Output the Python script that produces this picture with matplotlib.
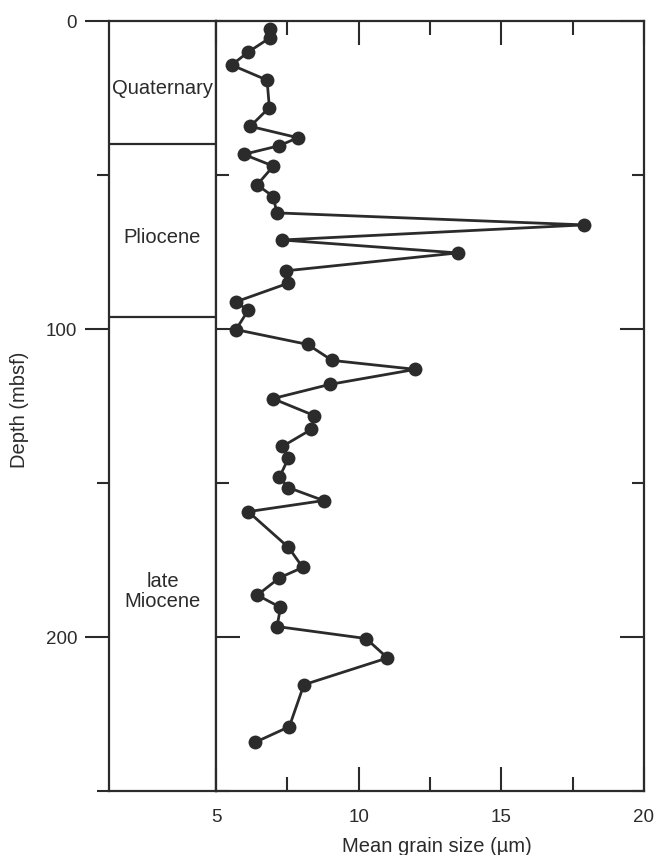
import matplotlib
matplotlib.use('Agg')
import matplotlib.pyplot as plt
from matplotlib.ticker import FixedLocator

plt.rcParams['font.family'] = ['Liberation Sans', 'DejaVu Sans']
plt.rcParams['font.size'] = 13

# depth (mbsf) and mean grain size (um)
depth = [2.7, 5.4, 10.2, 14.3, 19.2, 28.1, 34.2, 37.9, 40.5, 43.3, 47.1, 53.2,
         57.0, 62.3, 66.2, 71.1, 75.3, 81.1, 85.1, 91.2, 93.9, 100.2, 105.0,
         110.2, 113.1, 118.0, 122.6, 128.1, 132.6, 138.1, 141.9, 148.2, 151.5,
         155.7, 159.3, 170.9, 177.4, 180.8, 186.4, 190.4, 196.6, 200.5, 206.8,
         215.5, 229.1, 234.2]
grain = [6.90, 6.90, 6.11, 5.55, 6.79, 6.87, 6.20, 7.87, 7.21, 5.97, 7.01, 6.44,
         7.01, 7.13, 17.90, 7.32, 13.47, 7.46, 7.54, 5.69, 6.13, 5.70, 8.21,
         9.07, 11.99, 8.98, 6.99, 8.44, 8.34, 7.33, 7.54, 7.22, 7.54,
         8.77, 6.13, 7.54, 8.04, 7.22, 6.45, 7.26, 7.14, 10.26, 11.01,
         8.08, 7.57, 6.37]

# stratigraphic units
unit_names = ['Quaternary', 'Pliocene', 'late\nMiocene']
unit_label_depth = [21.8, 70.4, 185.3]
unit_bounds = [40, 96]

ink = '#2b2b2b'
W, H = 660, 855
fig = plt.figure(figsize=(6.6, 8.55), dpi=100)
bottom = 1 - 791 / H
height = (791 - 21) / H
ax_s = fig.add_axes([109 / W, bottom, (216 - 109) / W, height])
ax = fig.add_axes([216 / W, bottom, (644 - 216) / W, height], sharey=ax_s)

for a in (ax_s, ax):
    for sp in a.spines.values():
        sp.set_linewidth(1.6)
        sp.set_color(ink)

# main profile
ax.plot(grain, depth, '-o', color=ink, lw=2.0, ms=10, mec=ink, mew=0)
ax.set_xlim(5, 20)
ax.set_ylim(250, 0)
ax.xaxis.set_major_locator(FixedLocator([5, 10, 15, 20]))
ax.xaxis.set_minor_locator(FixedLocator([7.5, 12.5, 17.5]))
ax.yaxis.set_major_locator(FixedLocator([0, 100, 200]))
ax.yaxis.set_minor_locator(FixedLocator([50, 150, 250]))
ax.tick_params(axis='x', which='both', direction='in', top=True, bottom=True,
               width=1.5, color=ink, labelcolor=ink, pad=13, labelsize=13.5)
ax.tick_params(axis='x', which='major', length=17)
ax.tick_params(axis='x', which='minor', length=10)
ax.tick_params(axis='y', which='both', direction='in', left=True, right=True,
               labelleft=False, width=1.5, color=ink)
ax.tick_params(axis='y', which='major', length=17)
ax.tick_params(axis='y', which='minor', length=9)

# stratigraphy column
ax_s.set_xlim(0, 1)
ax_s.set_xticks([])
for b in unit_bounds:
    ax_s.axhline(b, color=ink, lw=1.6)
for name, d in zip(unit_names, unit_label_depth):
    ax_s.text(0.5, d, name, ha='center', va='center', color=ink, fontsize=14.5,
              linespacing=1.05)
ax_s.tick_params(axis='y', which='both', direction='out', width=1.5,
                 color=ink, labelcolor=ink, pad=6, labelsize=13.5)
ax_s.tick_params(axis='y', which='major', length=17)
ax_s.tick_params(axis='y', which='minor', length=9)

fig.text(20 / W, 1 - 410 / H, 'Depth (mbsf)', rotation=90, ha='center',
         va='center', color=ink, fontsize=14.5)
fig.text(437 / W, 1 - 846 / H, 'Mean grain size (µm)', ha='center',
         va='center', color=ink, fontsize=14.5)

fig.savefig('out.png', dpi=100)
